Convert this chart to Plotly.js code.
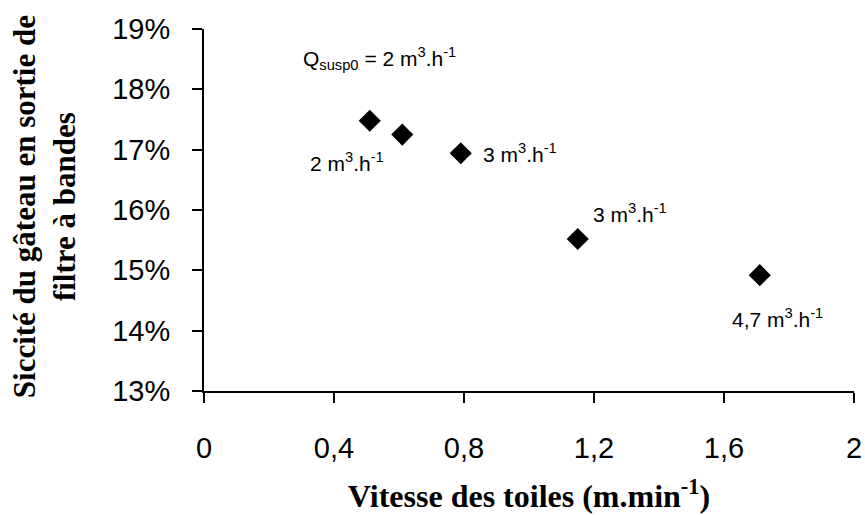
<!DOCTYPE html>
<html>
<head>
<meta charset="utf-8">
<script src="https://cdn.plot.ly/plotly-3.0.1.min.js"></script>
<style>html,body{margin:0;padding:0;background:#fff;}#chart{width:865px;height:515px;}</style>
</head>
<body>
<div id="chart"></div>
<script>
// Data
var vitesse = [0.51, 0.61, 0.79, 1.15, 1.71];          // m.min-1
var siccite = [0.1748, 0.1725, 0.1694, 0.1552, 0.1492]; // fraction
var pointLabels = ['2 m<sup>3</sup>.h<sup>-1</sup>', '', '3 m<sup>3</sup>.h<sup>-1</sup>', '3 m<sup>3</sup>.h<sup>-1</sup>', '4,7 m<sup>3</sup>.h<sup>-1</sup>'];
var headerLabel = 'Q<sub>susp0</sub> = 2 m<sup>3</sup>.h<sup>-1</sup>';
var xTicks = [0, 0.4, 0.8, 1.2, 1.6, 2];
var yTicks = [0.13, 0.14, 0.15, 0.16, 0.17, 0.18, 0.19];

// label offsets (pixels) relative to their point
var labelShift = [[-62, -41], null, [20, 0], [13, 26], [-30, -43]];

var annFont = {family: 'Liberation Sans, Arial, sans-serif', size: 21, color: '#000'};
var annotations = [];
for (var i = 0; i < pointLabels.length; i++) {
  if (!pointLabels[i]) continue;
  annotations.push({
    x: vitesse[i], y: siccite[i], xref: 'x', yref: 'y',
    text: pointLabels[i], showarrow: false,
    xanchor: 'left', yanchor: 'middle',
    xshift: labelShift[i][0], yshift: labelShift[i][1],
    font: annFont
  });
}
annotations.push({
  x: vitesse[0], y: siccite[0], xref: 'x', yref: 'y',
  text: headerLabel, showarrow: false,
  xanchor: 'left', yanchor: 'middle',
  xshift: -69, yshift: 62, font: annFont
});
annotations.push({
  xref: 'paper', yref: 'paper', x: -0.246, y: 0.508,
  text: '<b>Siccité du gâteau en sortie de</b><br><b>filtre à bandes</b>',
  showarrow: false, textangle: -90, xanchor: 'center', yanchor: 'middle',
  font: {family: 'Liberation Serif, Times New Roman, serif', size: 31, color: '#000'}
});

var trace = {
  x: vitesse, y: siccite, type: 'scatter', mode: 'markers',
  marker: {symbol: 'diamond', size: 17, color: '#000'},
  hoverinfo: 'none'
};

var axisCommon = {
  showgrid: false, zeroline: false, showline: true, linecolor: '#000', linewidth: 2,
  ticks: 'outside', ticklen: 10, tickwidth: 2, tickcolor: '#000',
  tickfont: {family: 'Liberation Sans, Arial, sans-serif', size: 29, color: '#000'}
};

var layout = {
  width: 865, height: 515,
  margin: {l: 204, r: 11, t: 29, b: 124},
  paper_bgcolor: '#fff', plot_bgcolor: '#fff',
  showlegend: false,
  separators: ', ',
  xaxis: Object.assign({}, axisCommon, {
    range: [0, 2], tickmode: 'array', tickvals: xTicks,
    ticktext: xTicks.map(function (v) { return String(v).replace('.', ','); }),
    ticklabelstandoff: 20,
    title: {text: '<b>Vitesse des toiles (m.min<sup>-1</sup>)</b>', standoff: 22,
      font: {family: 'Liberation Serif, Times New Roman, serif', size: 32, color: '#000'}}
  }),
  yaxis: Object.assign({}, axisCommon, {
    range: [0.13, 0.19], tickmode: 'array', tickvals: yTicks,
    ticktext: yTicks.map(function (v) { return Math.round(v * 100) + '%'; }),
    ticklabelstandoff: 16
  }),
  annotations: annotations
};

Plotly.newPlot('chart', [trace], layout, {displayModeBar: false, staticPlot: true});
</script>
</body>
</html>
